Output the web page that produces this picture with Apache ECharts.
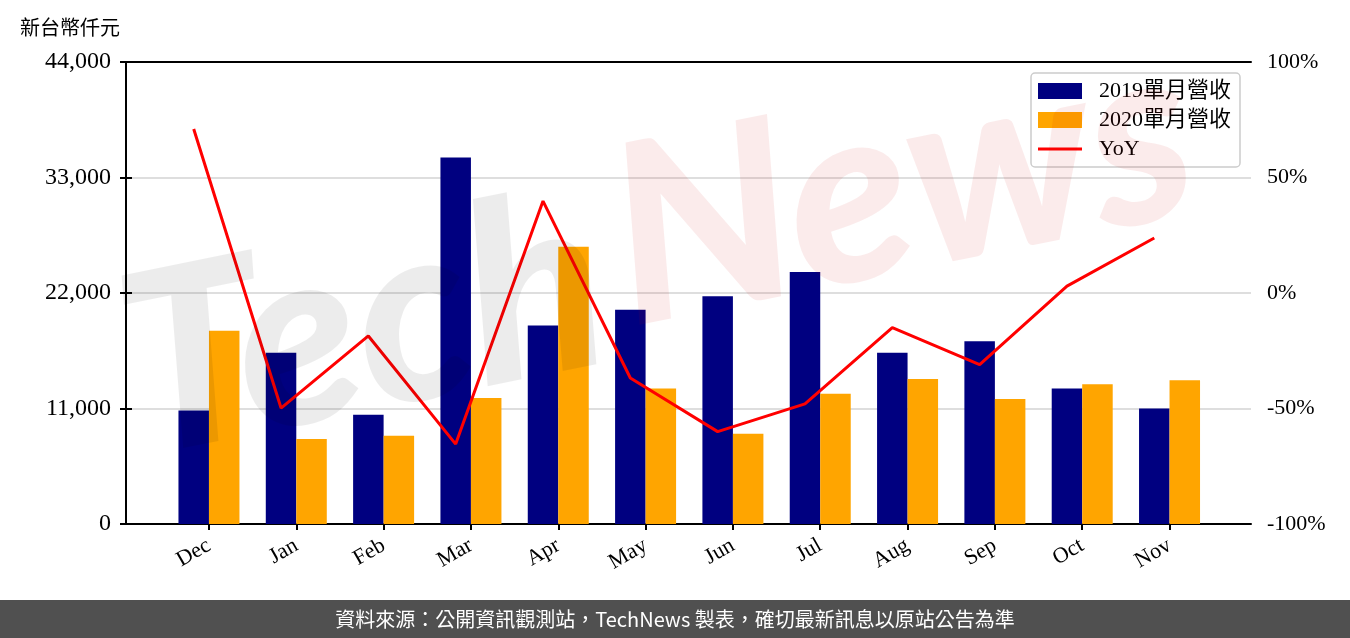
<!DOCTYPE html>
<html>
<head>
<meta charset="utf-8">
<script src="https://cdn.jsdelivr.net/npm/echarts@6/dist/echarts.min.js"></script>
<style>
html,body{margin:0;padding:0;background:#fff;}
#chart{width:1350px;height:638px;}
</style>
</head>
<body>
<div id="chart"></div>
<script>
const categories = ['Dec','Jan','Feb','Mar','Apr','May','Jun','Jul','Aug','Sep','Oct','Nov'];
const rev2019 = [10800, 16300, 10400, 34900, 18900, 20400, 21700, 24000, 16300, 17400, 12900, 11000];
const rev2020 = [18400, 8100, 8400, 12000, 26400, 12900, 8600, 12400, 13800, 11900, 13300, 13700];
const yoy = [71, -49.8, -18.6, -65.4, 39.8, -36.8, -60, -48, -15, -31, 3, 23.8];
const leftTicks = [0, 11000, 22000, 33000, 44000];
const rightTicks = [-100, -50, 0, 50, 100];

const serif = '"Liberation Serif", "Noto Sans CJK TC", serif';
const chart = echarts.init(document.getElementById('chart'), null, {renderer:'canvas'});
const axisLineStyle = {color:'#000', width:2};
const lineIcon = 'path://M0,0L44,0L44,0.01L0,0.01Z M0,6.5L44,6.5L44,9.5L0,9.5Z M0,15.99L44,15.99L44,16L0,16Z';

const option = {
  animation: false,
  backgroundColor: '#fff',
  grid: [
    {left:126, right:99, top:62, bottom:114},
    {left:165.3, right:136.8, top:62, bottom:114},
    {left:150.05, right:152.05, top:62, bottom:114}
  ],
  xAxis: [
    {gridIndex:0, type:'value', min:0, max:1, position:'bottom',
     axisLine:{show:true, onZero:false, lineStyle:axisLineStyle}, axisTick:{show:false}, axisLabel:{show:false}, splitLine:{show:false}},
    {gridIndex:0, type:'value', min:0, max:1, position:'top',
     axisLine:{show:true, onZero:false, lineStyle:axisLineStyle}, axisTick:{show:false}, axisLabel:{show:false}, splitLine:{show:false}},
    {gridIndex:1, type:'category', data:categories, position:'bottom',
     axisLine:{show:false}, axisTick:{show:true, alignWithLabel:true, length:6, lineStyle:axisLineStyle},
     axisLabel:{rotate:30, margin:20, fontFamily:serif, fontSize:22, color:'#000'}},
    {gridIndex:2, type:'category', data:categories, show:false}
  ],
  yAxis: [
    {gridIndex:0, type:'value', min:leftTicks[0], max:leftTicks[leftTicks.length-1], interval:11000,
     axisLine:{show:true, lineStyle:axisLineStyle}, axisTick:{show:true, length:6, lineStyle:axisLineStyle},
     axisLabel:{margin:15, fontFamily:serif, fontSize:24, color:'#000', formatter:v=>v.toLocaleString('en-US')},
     splitLine:{show:true, lineStyle:{color:'#d3d3d3', width:1.5}}},
    {gridIndex:0, type:'value', position:'right', min:rightTicks[0], max:rightTicks[rightTicks.length-1], interval:50,
     axisLine:{show:true, lineStyle:axisLineStyle}, axisTick:{show:true, length:6, lineStyle:axisLineStyle},
     axisLabel:{margin:16, fontFamily:serif, fontSize:22, color:'#000', formatter:'{value}%'},
     splitLine:{show:false}},
    {gridIndex:1, type:'value', min:0, max:44000, show:false},
    {gridIndex:2, type:'value', min:-100, max:100, show:false}
  ],
  legend: {
    orient:'vertical', left:1031, top:73,
    padding:[7,9,7,7], itemWidth:44, itemHeight:16, itemGap:7,
    borderColor:'#cccccc', borderWidth:1.5, borderRadius:4, backgroundColor:'rgba(255,255,255,0.85)',
    textStyle:{fontFamily:serif, fontSize:22, lineHeight:18, color:'#000', padding:[0,0,0,12]},
    data:[{name:'2019單月營收', icon:'rect'},{name:'2020單月營收', icon:'rect'},{name:'YoY', icon:lineIcon}]
  },
  series: [
    {name:'2019單月營收', type:'bar', xAxisIndex:2, yAxisIndex:2, data:rev2019, barWidth:30.5, barGap:'0%',
     itemStyle:{color:'#000080'}},
    {name:'2020單月營收', type:'bar', xAxisIndex:2, yAxisIndex:2, data:rev2020, barWidth:30.5, barGap:'0%',
     itemStyle:{color:'#ffa500'}},
    {name:'YoY', type:'line', xAxisIndex:3, yAxisIndex:3, data:yoy, symbol:'none',
     lineStyle:{color:'#ff0000', width:3}, itemStyle:{color:'#ff0000'}, z:5}
  ],
  graphic: [
    {type:'text', left:20, top:17, style:{text:'新台幣仟元', font:'20px "Noto Sans CJK TC"', fill:'#000'}},
    {type:'text', x:150, y:500, rotation:0.2, z:100, silent:true,
     style:{text:'Tech', font:'italic 900 250px Lato', fill:'rgba(0,0,0,0.075)', textVerticalAlign:'bottom'}},
    {type:'text', x:640, y:370, rotation:0.2, z:100, silent:true,
     style:{text:'News', font:'italic 900 250px Lato', fill:'rgba(210,0,0,0.08)', textVerticalAlign:'bottom'}},
    {type:'rect', shape:{x:0, y:600, width:1350, height:38}, style:{fill:'#505050'}, z:50},
    {type:'text', x:675, y:619, z:51,
     style:{text:'資料來源：公開資訊觀測站，TechNews 製表，確切最新訊息以原站公告為準', font:'20px "Noto Sans CJK TC"', fill:'#fff', textAlign:'center', textVerticalAlign:'middle'}}
  ]
};
chart.setOption(option);
</script>
</body>
</html>
